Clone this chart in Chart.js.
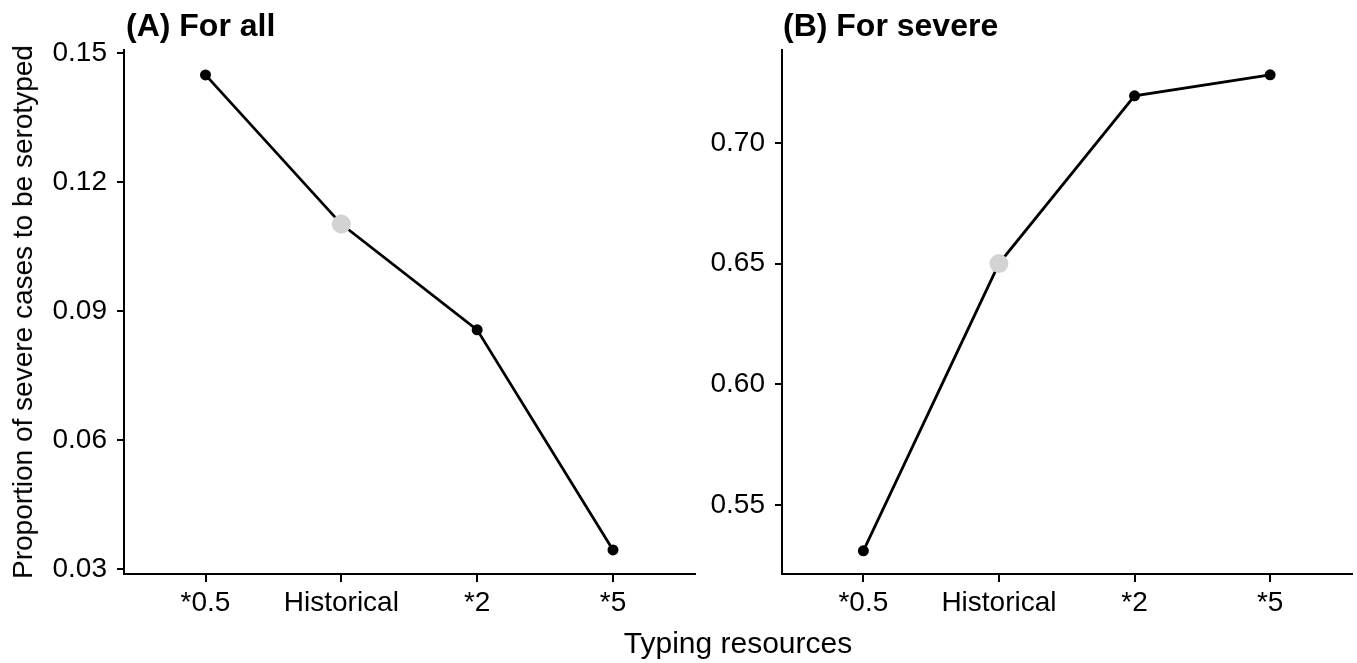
<!DOCTYPE html>
<html>
<head>
<meta charset="utf-8">
<script src="https://cdn.jsdelivr.net/npm/chart.js@4"></script>
<style>
  html, body { margin: 0; padding: 0; background: #fff; }
  body { width: 1357px; height: 663px; position: relative; overflow: hidden; font-family: "Liberation Sans", Arial, sans-serif; }
  .cv { position: absolute; top: 0; }
  .ptitle { position: absolute; top: 9px; font-weight: bold; font-size: 32px; line-height: 1; color: #000; white-space: nowrap; }
  .xtitle { position: absolute; top: 628px; left: 738px; transform: translateX(-50%); font-size: 30px; line-height: 1; white-space: nowrap; color: #000; }
  .ytitle { position: absolute; left: 23px; top: 312px; transform: translate(-50%, -50%) rotate(-90deg); font-size: 28px; line-height: 1; white-space: nowrap; color: #000; }
</style>
</head>
<body>
<canvas id="cA" class="cv" style="left:0px" width="700" height="663"></canvas>
<canvas id="cB" class="cv" style="left:700px" width="657" height="663"></canvas>
<div class="ptitle" style="left:126px">(A) For all</div>
<div class="ptitle" style="left:783px">(B) For severe</div>
<div class="xtitle">Typing resources</div>
<div class="ytitle">Proportion of severe cases to be serotyped</div>
<script>
const categories = ['*0.5', 'Historical', '*2', '*5'];
const valuesAll = [0.1449, 0.1102, 0.0856, 0.0344];
const valuesSevere = [0.531, 0.650, 0.7195, 0.7282];
const ticksAll = [0.03, 0.06, 0.09, 0.12, 0.15];
const ticksSevere = [0.55, 0.60, 0.65, 0.70];
const rangeAll = [0.0288, 0.1507];
const rangeSevere = [0.5214, 0.7385];
const highlight = 'Historical';

Chart.defaults.font.family = '"Liberation Sans", Arial, sans-serif';
Chart.defaults.color = '#000';

function makeChart(id, values, yTicks, yRange, yWidth) {
  const pts = values.map((v, i) => ({ x: i, y: v }));
  return new Chart(document.getElementById(id), {
    type: 'line',
    data: {
      datasets: [{
        data: pts,
        borderColor: '#000',
        borderWidth: 2.8,
        pointBackgroundColor: categories.map(c => c === highlight ? '#d3d3d3' : '#000'),
        pointBorderWidth: 0,
        pointRadius: categories.map(c => c === highlight ? 9.5 : 5.5),
        tension: 0,
        fill: false
      }]
    },
    options: {
      responsive: false,
      animation: false,
      devicePixelRatio: 1,
      layout: { padding: { top: 50, right: 4, left: 0, bottom: 0 } },
      plugins: { legend: { display: false }, tooltip: { enabled: false }, title: { display: false } },
      scales: {
        x: {
          type: 'linear',
          min: -0.6,
          max: categories.length - 1 + 0.6,
          afterBuildTicks: s => { s.ticks = categories.map((c, i) => ({ value: i })); },
          afterFit: s => { s.height = 89; },
          ticks: {
            callback: v => categories[v],
            font: { size: 28 },
            color: '#000',
            padding: 4,
            maxRotation: 0,
            autoSkip: false
          },
          grid: { drawOnChartArea: false, drawTicks: true, tickLength: 8, color: '#000', lineWidth: 2 },
          border: { display: true, color: '#000', width: 2 }
        },
        y: {
          type: 'linear',
          min: yRange[0],
          max: yRange[1],
          afterBuildTicks: s => { s.ticks = yTicks.map(v => ({ value: v })); },
          afterFit: s => { s.width = yWidth; },
          ticks: {
            callback: v => v.toFixed(2),
            font: { size: 28 },
            color: '#000',
            padding: 10
          },
          grid: { drawOnChartArea: false, drawTicks: true, tickLength: 7, color: '#000', lineWidth: 2 },
          border: { display: true, color: '#000', width: 2 }
        }
      }
    }
  });
}

makeChart('cA', valuesAll, ticksAll, rangeAll, 124);
makeChart('cB', valuesSevere, ticksSevere, rangeSevere, 82);
</script>
</body>
</html>
